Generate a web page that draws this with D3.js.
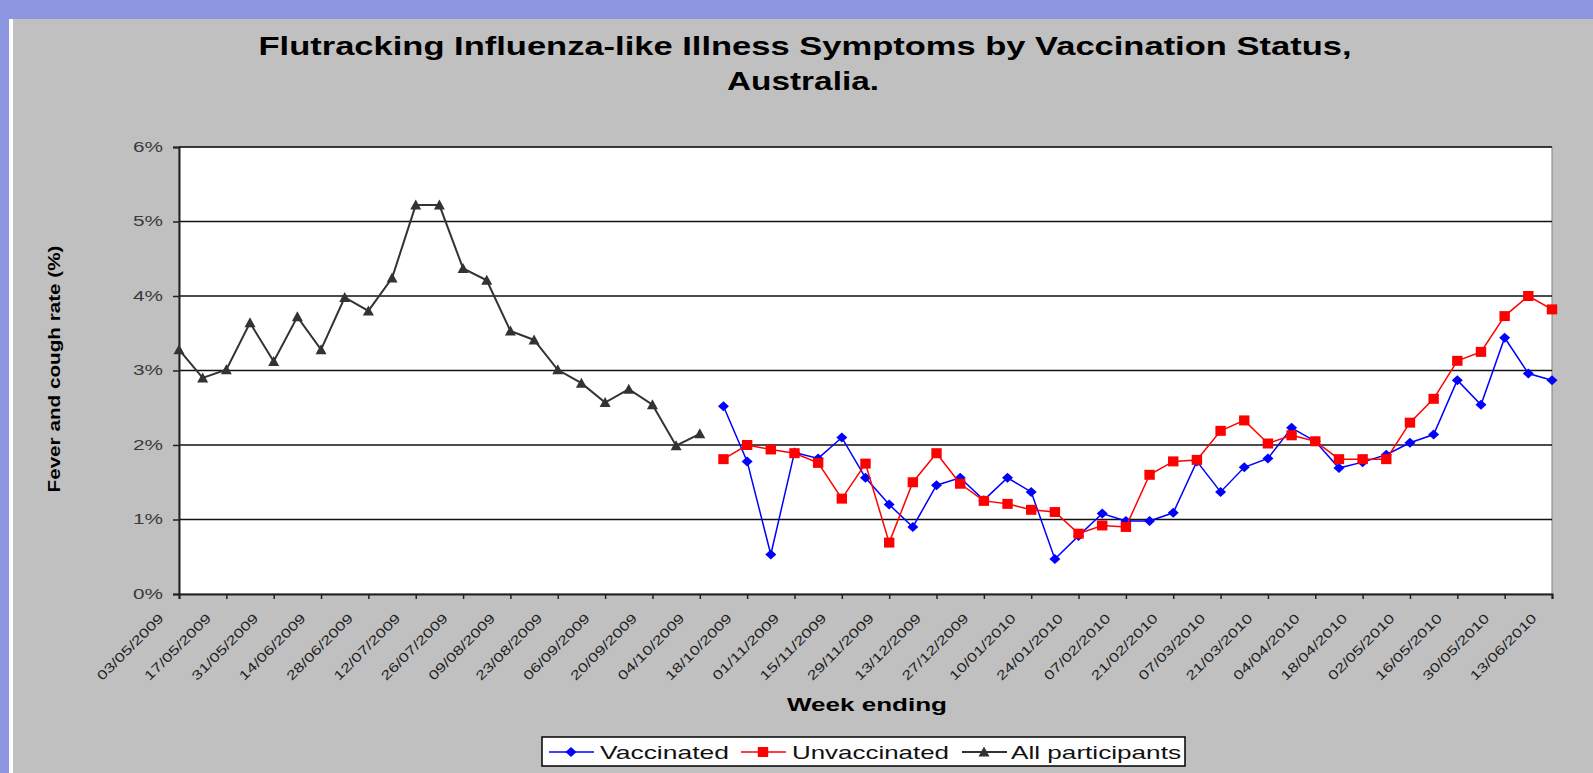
<!DOCTYPE html>
<html lang="en">
  <head>
    <meta charset="utf-8">
    <title>Flutracking ILI by vaccination status</title>
    <script src="https://d3js.org/d3.v7.min.js"></script>
    <style>
      body { margin: 0; background: #8b95e0; }
      svg { display: block; }
    </style>
  </head>
  <body>
    <div id="container"></div>
    <script>
      // week ending dates (x categories)
      const weeks = [
        '03/05/2009', '10/05/2009', '17/05/2009', '24/05/2009', '31/05/2009', '07/06/2009', '14/06/2009',
        '21/06/2009', '28/06/2009', '05/07/2009', '12/07/2009', '19/07/2009', '26/07/2009', '02/08/2009',
        '09/08/2009', '16/08/2009', '23/08/2009', '30/08/2009', '06/09/2009', '13/09/2009', '20/09/2009',
        '27/09/2009', '04/10/2009', '11/10/2009', '18/10/2009', '25/10/2009', '01/11/2009', '08/11/2009',
        '15/11/2009', '22/11/2009', '29/11/2009', '06/12/2009', '13/12/2009', '20/12/2009', '27/12/2009',
        '03/01/2010', '10/01/2010', '17/01/2010', '24/01/2010', '31/01/2010', '07/02/2010', '14/02/2010',
        '21/02/2010', '28/02/2010', '07/03/2010', '14/03/2010', '21/03/2010', '28/03/2010', '04/04/2010',
        '11/04/2010', '18/04/2010', '25/04/2010', '02/05/2010', '09/05/2010', '16/05/2010', '23/05/2010',
        '30/05/2010', '06/06/2010', '13/06/2010'
      ]
      // labels shown on the axis (every second week)
      const tickLabels = weeks.filter((w, i) => i % 2 === 0)
      const yTicks = [0, 1, 2, 3, 4, 5, 6]

      // All participants: 03/05/2009 - 04/10/2009
      const allParticipants = [3.28, 2.90, 3.01, 3.64, 3.12, 3.72, 3.28, 3.98, 3.80, 4.24, 5.22, 5.22,
        4.37, 4.21, 3.53, 3.41, 3.01, 2.83, 2.57, 2.75, 2.54, 1.99, 2.15]
      // Vaccinated / Unvaccinated: 11/10/2009 - 13/06/2010
      const vaccinated = [2.52, 1.78, 0.53, 1.90, 1.82, 2.10, 1.56, 1.20, 0.90, 1.46, 1.56, 1.26,
        1.56, 1.37, 0.47, 0.78, 1.08, 0.98, 0.98, 1.09, 1.78, 1.37, 1.70, 1.82, 2.23, 2.05, 1.69, 1.77,
        1.87, 2.03, 2.14, 2.87, 2.54, 3.44, 2.96, 2.87]
      const unvaccinated = [1.81, 2.00, 1.94, 1.89, 1.76, 1.28, 1.75, 0.69, 1.50, 1.89, 1.48, 1.25,
        1.21, 1.13, 1.10, 0.81, 0.92, 0.90, 1.60, 1.78, 1.80, 2.19, 2.33, 2.02, 2.13, 2.05, 1.81, 1.81,
        1.81, 2.30, 2.62, 3.13, 3.25, 3.73, 4.00, 3.82]

      const font = "'Liberation Sans', Arial, sans-serif"
      const W = 1593, H = 773
      const plot = { left: 179, right: 1552, top: 147, bottom: 594 }

      const svg = d3.select('#container').append('svg')
        .attr('width', W)
        .attr('height', H)

      // page frame + grey chart area
      svg.append('rect').attr('width', W).attr('height', H).attr('fill', '#8b95e0')
      svg.append('rect').attr('x', 9).attr('y', 19).attr('width', W - 9).attr('height', H - 19).attr('fill', '#ffffff')
      svg.append('rect').attr('x', 13).attr('y', 19).attr('width', W - 13).attr('height', H - 19).attr('fill', '#c0c0c0')

      // titles
      svg.append('text')
        .attr('x', 805).attr('y', 55)
        .attr('text-anchor', 'middle')
        .attr('font-family', font).attr('font-weight', 'bold').attr('font-size', 26)
        .attr('textLength', 1093).attr('lengthAdjust', 'spacingAndGlyphs')
        .text('Flutracking Influenza-like Illness Symptoms by Vaccination Status,')
      svg.append('text')
        .attr('x', 803).attr('y', 90)
        .attr('text-anchor', 'middle')
        .attr('font-family', font).attr('font-weight', 'bold').attr('font-size', 26)
        .attr('textLength', 152).attr('lengthAdjust', 'spacingAndGlyphs')
        .text('Australia.')

      const x = d3.scaleLinear().domain([0, weeks.length - 1]).range([plot.left, plot.right])
      const y = d3.scaleLinear().domain([0, 6]).range([plot.bottom, plot.top])

      // plot area
      svg.append('rect')
        .attr('x', plot.left).attr('y', plot.top)
        .attr('width', plot.right - plot.left).attr('height', plot.bottom - plot.top)
        .attr('fill', '#ffffff').attr('stroke', '#808080').attr('stroke-width', 1)

      // horizontal gridlines
      svg.append('g').selectAll('line')
        .data(yTicks.slice(1)).enter()
        .append('line')
        .attr('x1', plot.left).attr('x2', plot.right)
        .attr('y1', d => y(d)).attr('y2', d => y(d))
        .attr('stroke', '#111').attr('stroke-width', 1.6)

      // y axis
      const yAxis = svg.append('g')
        .attr('transform', `translate(${plot.left},0)`)
        .call(d3.axisLeft(y).tickValues(yTicks).tickFormat(d => d + '%').tickSize(6).tickPadding(10))
      yAxis.select('.domain').attr('stroke', '#222').attr('stroke-width', 2)
      yAxis.selectAll('.tick line').attr('stroke', '#222').attr('stroke-width', 1.5)
      yAxis.selectAll('text')
        .attr('font-family', font).attr('font-size', 14).attr('fill', '#3a3a3a')
        .attr('textLength', 30).attr('lengthAdjust', 'spacingAndGlyphs')

      // x axis
      const xAxis = svg.append('g')
        .attr('transform', `translate(0,${plot.bottom})`)
        .call(d3.axisBottom(x)
          .tickValues(d3.range(0, weeks.length, 2))
          .tickFormat(i => weeks[i])
          .tickSize(5))
      xAxis.select('.domain').attr('stroke', '#222').attr('stroke-width', 2)
      xAxis.selectAll('.tick line').attr('stroke', '#222').attr('stroke-width', 1.5)
      xAxis.selectAll('text')
        .attr('x', 0).attr('y', 0).attr('dy', 0)
        .attr('transform', 'translate(-15,25) rotate(-45)')
        .attr('text-anchor', 'end')
        .attr('font-family', font).attr('font-size', 13).attr('fill', '#222')
        .attr('textLength', 88).attr('lengthAdjust', 'spacingAndGlyphs')

      // axis titles
      svg.append('text')
        .attr('transform', 'translate(60,369) rotate(-90)')
        .attr('text-anchor', 'middle')
        .attr('font-family', font).attr('font-weight', 'bold').attr('font-size', 17)
        .attr('textLength', 247).attr('lengthAdjust', 'spacingAndGlyphs')
        .text('Fever and cough rate (%)')
      svg.append('text')
        .attr('x', 867).attr('y', 711)
        .attr('text-anchor', 'middle')
        .attr('font-family', font).attr('font-weight', 'bold').attr('font-size', 18)
        .attr('textLength', 160).attr('lengthAdjust', 'spacingAndGlyphs')
        .text('Week ending')

      // series
      const markers = {
        diamond: 'M0,-5L5.5,0L0,5L-5.5,0Z',
        square: 'M-5.2,-5L5.2,-5L5.2,5L-5.2,5Z',
        triangle: 'M0,-5.5L5.5,4.5L-5.5,4.5Z'
      }
      const series = [
        { name: 'Vaccinated', values: vaccinated, start: 23, color: '#0000ff', marker: 'diamond', width: 1.5 },
        { name: 'Unvaccinated', values: unvaccinated, start: 23, color: '#ff0000', marker: 'square', width: 1.5 },
        { name: 'All participants', values: allParticipants, start: 0, color: '#333333', marker: 'triangle', width: 2 }
      ]
      const line = d3.line().x(d => x(d.i)).y(d => y(d.v))

      series.forEach(s => {
        const pts = s.values.map((v, k) => ({ i: s.start + k, v }))
        const g = svg.append('g')
        g.append('path')
          .attr('d', line(pts))
          .attr('fill', 'none')
          .attr('stroke', s.color)
          .attr('stroke-width', s.width)
        g.selectAll('path.m')
          .data(pts).enter()
          .append('path')
          .attr('class', 'm')
          .attr('d', markers[s.marker])
          .attr('transform', d => `translate(${x(d.i)},${y(d.v)})`)
          .attr('fill', s.color)
      })

      // legend
      const legendItems = [
        { s: series[0], lx: 549, tx: 600, tw: 129 },
        { s: series[1], lx: 741, tx: 792, tw: 157 },
        { s: series[2], lx: 962, tx: 1011, tw: 170 }
      ]
      const legend = svg.append('g')
      legend.append('rect')
        .attr('x', 542).attr('y', 737)
        .attr('width', 643).attr('height', 29)
        .attr('fill', '#ffffff').attr('stroke', '#000').attr('stroke-width', 1.5)
      legendItems.forEach(it => {
        legend.append('line')
          .attr('x1', it.lx).attr('x2', it.lx + 45)
          .attr('y1', 752).attr('y2', 752)
          .attr('stroke', it.s.color).attr('stroke-width', it.s.width)
        legend.append('path')
          .attr('d', markers[it.s.marker])
          .attr('transform', `translate(${it.lx + 22},752)`)
          .attr('fill', it.s.color)
        legend.append('text')
          .attr('x', it.tx).attr('y', 759)
          .attr('font-family', font).attr('font-size', 19).attr('fill', '#111')
          .attr('textLength', it.tw).attr('lengthAdjust', 'spacingAndGlyphs')
          .text(it.s.name)
      })
    </script>
  </body>
</html>
